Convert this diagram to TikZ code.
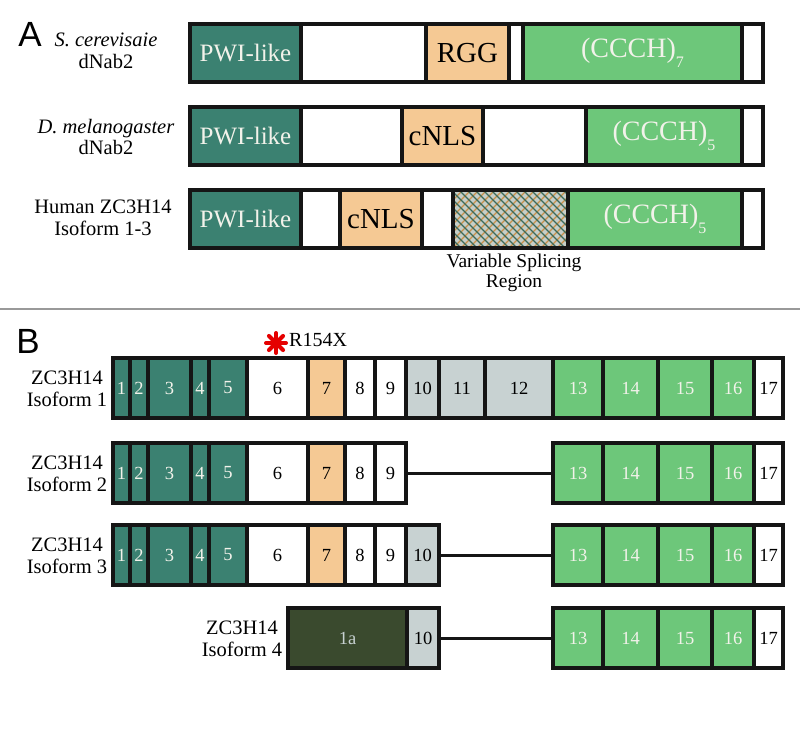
\documentclass[tikz,border=0pt]{standalone}
\usepackage{fontspec}
\usetikzlibrary{calc}
\setmainfont{Liberation Serif}
\newfontfamily\sansA{Liberation Sans}
\definecolor{teal}{HTML}{3B8171}
\definecolor{peach}{HTML}{F5C994}
\definecolor{lgreen}{HTML}{6DC77A}
\definecolor{lgray}{HTML}{C8D2D2}
\definecolor{olive}{HTML}{3A4A2E}
\definecolor{linec}{HTML}{151515}
\definecolor{wtext}{HTML}{F2F2EA}
\definecolor{hatchA}{HTML}{3C6A5A}
\definecolor{hatchB}{HTML}{C8904A}
\definecolor{hatchbg}{HTML}{C6CEC8}
\tikzset{
  seg/.style={draw=linec, line width=3.2pt, inner sep=0pt, outer sep=0pt, anchor=north west},
  lab/.style={align=center, font=\fontsize{20.5}{21.5}\selectfont, inner sep=0pt},
  panel/.style={font=\sansA\fontsize{35}{35}\selectfont, inner sep=0pt},
  intron/.style={draw=linec, line width=3pt},
}
\newcommand\Seg[8]{\node[seg, fill=#6, text=#7, minimum width={(#3-#2)*1pt}, minimum height={#5*1pt}] (#1) at (#2,#4) {#8};}
\newcommand\sub[1]{\raisebox{-0.34em}{\fontsize{16}{16}\selectfont #1}}
\begin{document}
\begin{tikzpicture}[x=1pt,y=-1pt]
\useasboundingbox (0,0) rectangle (800,741);
\fill[white] (0,0) rectangle (800,741);

% ---------- Panel A ----------
\node[panel] (A) at (30,34) {A};
\node[lab] (la1) at (106,51) {\textit{S. cerevisaie}\\dNab2};
\node[lab] (la2) at (106,137) {\textit{D. melanogaster}\\dNab2};
\node[lab] (la3) at (103,218) {Human ZC3H14\\Isoform 1-3};

% row 1
\Seg{a1p}{190}{301}{24}{58}{teal}{wtext}{\fontsize{25}{25}\selectfont PWI-like}
\Seg{a1w}{301}{426}{24}{58}{white}{black}{}
\Seg{a1r}{426}{509}{24}{58}{peach}{black}{\fontsize{29}{29}\selectfont RGG}
\Seg{a1w2}{509}{523}{24}{58}{white}{black}{}
\Seg{a1g}{523}{742}{24}{58}{lgreen}{wtext}{\fontsize{28}{28}\selectfont (CCCH)\sub{7}}
\Seg{a1e}{742}{763}{24}{58}{white}{black}{}
% row 2
\Seg{a2p}{190}{301}{107}{58}{teal}{wtext}{\fontsize{25}{25}\selectfont PWI-like}
\Seg{a2w}{301}{402}{107}{58}{white}{black}{}
\Seg{a2c}{402}{483}{107}{58}{peach}{black}{\fontsize{29}{29}\selectfont cNLS}
\Seg{a2w2}{483}{586}{107}{58}{white}{black}{}
\Seg{a2g}{586}{742}{107}{58}{lgreen}{wtext}{\fontsize{28}{28}\selectfont (CCCH)\sub{5}}
\Seg{a2e}{742}{763}{107}{58}{white}{black}{}
% row 3
\Seg{a3p}{190}{301}{190}{58}{teal}{wtext}{\fontsize{25}{25}\selectfont PWI-like}
\Seg{a3w}{301}{340}{190}{58}{white}{black}{}
\Seg{a3c}{340}{422}{190}{58}{peach}{black}{\fontsize{29}{29}\selectfont cNLS}
\Seg{a3w2}{422}{453}{190}{58}{white}{black}{}
\node[seg, fill=hatchbg, minimum width=115pt, minimum height=58pt,
  path picture={
    \foreach \i in {-72,-64,...,136}{
      \draw[hatchB, line width=1.1pt] ($(path picture bounding box.south west)+(\i pt,0pt)$) -- ++(72pt,72pt);
    }
    \foreach \i in {-8,0,...,200}{
      \draw[hatchA, line width=1.1pt] ($(path picture bounding box.south west)+(\i pt,0pt)$) -- ++(-72pt,72pt);
    }
  }] (a3h) at (453,190) {};
\draw[draw=linec, line width=3.2pt] (a3h.north west) rectangle (a3h.south east);
\Seg{a3g}{568}{742}{190}{58}{lgreen}{wtext}{\fontsize{28}{28}\selectfont (CCCH)\sub{5}}
\Seg{a3e}{742}{763}{190}{58}{white}{black}{}
\node[lab, font=\fontsize{19.5}{20.5}\selectfont] (vsr) at (514,273) {Variable Splicing\\Region};

% separator
\draw[color=gray!80, line width=2pt] (0,309) -- (800,309);

% ---------- Panel B ----------
\node[panel] (B) at (28,341) {B};
\node[lab] (lb1) at (67,389) {ZC3H14\\Isoform 1};
\node[lab] (lb2) at (67,474) {ZC3H14\\Isoform 2};
\node[lab] (lb3) at (67,556) {ZC3H14\\Isoform 3};
\node[lab] (lb4) at (242,639) {ZC3H14\\Isoform 4};

% star + mutation
\coordinate (st) at (276,343);
\foreach \a in {0,45,90,135}{
  \draw[red!90!black, line width=4pt, line cap=round] (st) ++(\a:10pt) -- ++(\a+180:20pt);
}
\node[anchor=west, inner sep=0pt, font=\fontsize{20}{20}\selectfont] (mut) at (289,340) {R154X};

% exon rows
\foreach \r/\y in {1/358,2/443,3/525}{
  \Seg{e\r x1}{113}{130}{\y}{60}{teal}{wtext}{\fontsize{18.5}{18.5}\selectfont 1}
  \Seg{e\r x2}{130}{148}{\y}{60}{teal}{wtext}{\fontsize{18.5}{18.5}\selectfont 2}
  \Seg{e\r x3}{148}{191}{\y}{60}{teal}{wtext}{\fontsize{18.5}{18.5}\selectfont 3}
  \Seg{e\r x4}{191}{209}{\y}{60}{teal}{wtext}{\fontsize{18.5}{18.5}\selectfont 4}
  \Seg{e\r x5}{209}{247}{\y}{60}{teal}{wtext}{\fontsize{18.5}{18.5}\selectfont 5}
  \Seg{e\r x6}{247}{308}{\y}{60}{white}{black}{\fontsize{18.5}{18.5}\selectfont 6}
  \Seg{e\r x7}{308}{345}{\y}{60}{peach}{black}{\fontsize{18.5}{18.5}\selectfont 7}
  \Seg{e\r x8}{345}{375}{\y}{60}{white}{black}{\fontsize{18.5}{18.5}\selectfont 8}
  \Seg{e\r x9}{375}{406}{\y}{60}{white}{black}{\fontsize{18.5}{18.5}\selectfont 9}
}
\Seg{e4x1a}{288}{407}{608}{60}{olive}{lgray}{\fontsize{18.5}{18.5}\selectfont 1a}
\Seg{e1x10}{406}{439}{358}{60}{lgray}{black}{\fontsize{18.5}{18.5}\selectfont 10}
\Seg{e3x10}{406}{439}{525}{60}{lgray}{black}{\fontsize{18.5}{18.5}\selectfont 10}
\Seg{e4x10}{407}{439}{608}{60}{lgray}{black}{\fontsize{18.5}{18.5}\selectfont 10}
\Seg{e1x11}{439}{485}{358}{60}{lgray}{black}{\fontsize{18.5}{18.5}\selectfont 11}
\Seg{e1x12}{485}{553}{358}{60}{lgray}{black}{\fontsize{18.5}{18.5}\selectfont 12}
\foreach \r/\y in {1/358,2/443,3/525,4/608}{
  \Seg{e\r x13}{553}{603}{\y}{60}{lgreen}{wtext}{\fontsize{18.5}{18.5}\selectfont 13}
  \Seg{e\r x14}{603}{658}{\y}{60}{lgreen}{wtext}{\fontsize{18.5}{18.5}\selectfont 14}
  \Seg{e\r x15}{658}{712}{\y}{60}{lgreen}{wtext}{\fontsize{18.5}{18.5}\selectfont 15}
  \Seg{e\r x16}{712}{754}{\y}{60}{lgreen}{wtext}{\fontsize{18.5}{18.5}\selectfont 16}
  \Seg{e\r x17}{754}{783}{\y}{60}{white}{black}{\fontsize{18.5}{18.5}\selectfont 17}
}
% introns
\draw[intron] (e2x9.east) -- (e2x13.west);
\draw[intron] (e3x10.east) -- (e3x13.west);
\draw[intron] (e4x10.east) -- (e4x13.west);
\end{tikzpicture}
\end{document}
